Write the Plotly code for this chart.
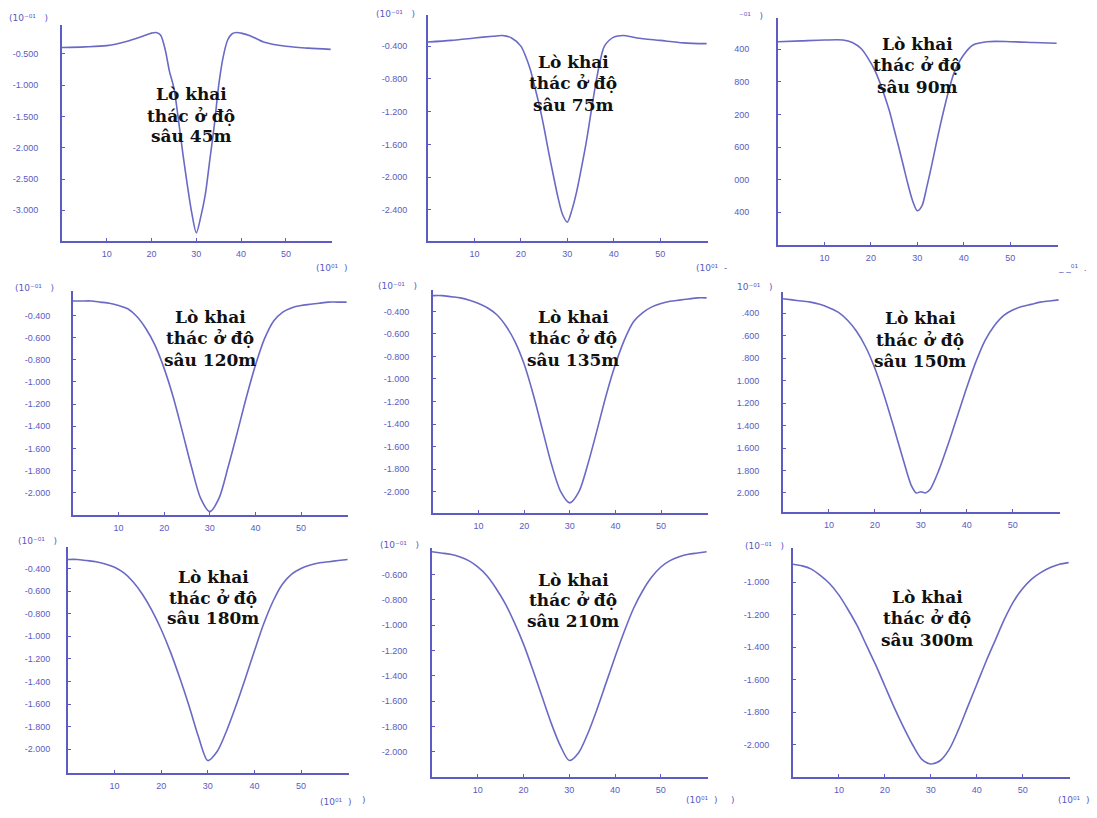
import plotly.graph_objects as go

# ---------------- data (x in 10^01 units, y in 10^-01 units) ----------------
x_45 = [0, 5, 10, 15, 18, 20, 21, 22, 23, 24, 25, 26, 27, 28, 29, 30, 31, 32, 33, 34, 35, 36, 37, 38, 39, 40, 42, 45, 50, 55, 60]
y_45 = [-0.40, -0.39, -0.37, -0.29, -0.22, -0.17, -0.16, -0.20, -0.42, -0.78, -1.05, -1.55, -2.10, -2.60, -3.05, -3.36,
        -3.10, -2.75, -2.20, -1.65, -1.00, -0.55, -0.28, -0.18, -0.16, -0.17, -0.21, -0.31, -0.38, -0.41, -0.43]

x_75 = [0, 5, 10, 14, 16, 18, 20, 21, 22, 23, 24, 25, 26, 27, 28, 29, 30, 31, 32, 33, 34, 35, 36, 37, 38, 40, 42, 45, 50, 55, 60]
y_75 = [-0.35, -0.33, -0.30, -0.28, -0.27, -0.30, -0.40, -0.52, -0.68, -0.90, -1.13, -1.40, -1.70, -1.98, -2.25, -2.46,
        -2.55, -2.40, -2.18, -1.90, -1.60, -1.25, -0.90, -0.60, -0.40, -0.29, -0.27, -0.30, -0.33, -0.36, -0.37]

x_90 = [0, 5, 10, 14, 16, 18, 20, 21, 22, 23, 24, 25, 26, 27, 28, 29, 30, 31, 32, 33, 34, 35, 36, 37, 38, 40, 42, 45, 50, 55, 60]
y_90 = [-0.31, -0.30, -0.29, -0.29, -0.32, -0.40, -0.57, -0.68, -0.82, -0.98, -1.16, -1.38, -1.60, -1.83, -2.06, -2.26,
        -2.38, -2.32, -2.10, -1.85, -1.58, -1.32, -1.08, -0.86, -0.68, -0.47, -0.35, -0.31, -0.31, -0.32, -0.33]

x_wide = [0, 2, 4, 6, 8, 10, 12, 14, 16, 18, 20, 22, 24, 26, 28, 30, 32, 34, 36, 38, 40, 42, 44, 46, 48, 50, 52, 54, 56, 58, 60]

y_120 = [-0.27, -0.27, -0.27, -0.28, -0.29, -0.31, -0.34, -0.41, -0.52, -0.67, -0.88, -1.14, -1.45, -1.77, -2.05, -2.17,
         -2.05, -1.77, -1.46, -1.14, -0.85, -0.61, -0.45, -0.37, -0.33, -0.31, -0.30, -0.29, -0.28, -0.28, -0.28]

y_135 = [-0.26, -0.26, -0.27, -0.28, -0.30, -0.33, -0.37, -0.43, -0.53, -0.67, -0.87, -1.14, -1.45, -1.76, -2.00, -2.10,
         -2.00, -1.75, -1.45, -1.14, -0.87, -0.65, -0.49, -0.41, -0.36, -0.33, -0.31, -0.30, -0.29, -0.28, -0.28]

x_150 = [0, 2, 4, 6, 8, 10, 12, 14, 16, 18, 20, 22, 24, 26, 28, 29, 30, 31, 32, 34, 36, 38, 40, 42, 44, 46, 48, 50, 52, 54, 56, 58, 60]
y_150 = [-0.27, -0.28, -0.29, -0.30, -0.32, -0.35, -0.39, -0.46, -0.56, -0.70, -0.89, -1.13, -1.40, -1.68, -1.94, -2.00,
         -1.99, -2.00, -1.97, -1.79, -1.56, -1.31, -1.06, -0.83, -0.64, -0.51, -0.42, -0.37, -0.34, -0.32, -0.30, -0.29, -0.28]

y_180 = [-0.32, -0.32, -0.33, -0.34, -0.36, -0.39, -0.44, -0.52, -0.63, -0.77, -0.94, -1.14, -1.37, -1.62, -1.89, -2.10,
         -2.02, -1.84, -1.62, -1.38, -1.13, -0.89, -0.69, -0.54, -0.45, -0.40, -0.37, -0.35, -0.34, -0.33, -0.32]

y_210 = [-0.42, -0.43, -0.44, -0.46, -0.49, -0.54, -0.61, -0.71, -0.83, -0.98, -1.15, -1.35, -1.56, -1.77, -1.95, -2.07,
         -2.01, -1.86, -1.67, -1.46, -1.25, -1.05, -0.87, -0.73, -0.62, -0.54, -0.49, -0.46, -0.44, -0.43, -0.42]

y_300 = [-0.89, -0.90, -0.92, -0.96, -1.01, -1.08, -1.17, -1.27, -1.39, -1.51, -1.64, -1.77, -1.89, -2.00, -2.09, -2.12,
         -2.10, -2.03, -1.91, -1.77, -1.63, -1.49, -1.36, -1.23, -1.12, -1.04, -0.98, -0.94, -0.91, -0.89, -0.88]

depths = ["45m", "75m", "90m", "120m", "135m", "150m", "180m", "210m", "300m"]
label_lines = ["Lò khai", "thác ở độ", "sâu "]

x_ticks = [10, 20, 30, 40, 50]
x_ticktext = ["10", "20", "30", "40", "50"]

yt_45 = [-0.5, -1.0, -1.5, -2.0, -2.5, -3.0]
ytt_45 = ["-0.500", "-1.000", "-1.500", "-2.000", "-2.500", "-3.000"]
yt_75 = [-0.4, -0.8, -1.2, -1.6, -2.0, -2.4]
ytt_75 = ["-0.400", "-0.800", "-1.200", "-1.600", "-2.000", "-2.400"]
ytt_90 = ["400", "800", "200", "600", "000", "400"]  # labels cropped in the source image
yt_02 = [-0.4, -0.6, -0.8, -1.0, -1.2, -1.4, -1.6, -1.8, -2.0]
ytt_02 = ["-0.400", "-0.600", "-0.800", "-1.000", "-1.200", "-1.400", "-1.600", "-1.800", "-2.000"]
ytt_150 = [".400", ".600", ".800", "1.000", "1.200", "1.400", "1.600", "1.800", "2.000"]
yt_210 = [-0.6, -0.8, -1.0, -1.2, -1.4, -1.6, -1.8, -2.0]
ytt_210 = ["-0.600", "-0.800", "-1.000", "-1.200", "-1.400", "-1.600", "-1.800", "-2.000"]
yt_300 = [-1.0, -1.2, -1.4, -1.6, -1.8, -2.0]
ytt_300 = ["-1.000", "-1.200", "-1.400", "-1.600", "-1.800", "-2.000"]

# ---------------- layout geometry (pixels) ----------------
W, H = 1097, 818
LINE = "#6a6ac6"
AXIS = "#5c5cc4"
TICKC = "#5a5ac2"
NB = "\u00a0"
YM = "(10\u207b\u2070\u00b9" + NB * 3 + ")"
XM = "(10\u2070\u00b9" + NB * 2 + ")"

panels = [
    dict(x=x_45, y=y_45, yr=[-3.49, -0.04], yt=yt_45, ytt=ytt_45, box=(62, 332, 25, 241),
         lab=(191, [94, 116, 136]), so=20, ym=(28, 18, YM)),
    dict(x=x_75, y=y_75, yr=[-2.78, -0.02], yt=yt_75, ytt=ytt_75, box=(428, 708, 15, 241),
         lab=(573, [62, 83, 105]), so=17, ym=(395, 14, YM)),
    dict(x=x_90, y=y_90, yr=[-2.80, -0.02], yt=yt_75, ytt=ytt_90, box=(778, 1058, 18, 245),
         lab=(917, [44, 65, 87]), so=25, ym=(751, 16, "\u207b\u2070\u00b9" + NB * 3 + ")")),
    dict(x=x_wide, y=y_120, yr=[-2.20, -0.18], yt=yt_02, ytt=ytt_02, box=(73, 348, 291, 515),
         lab=(210, [317, 338, 360]), so=19, ym=(34, 288, YM)),
    dict(x=x_wide, y=y_135, yr=[-2.19, -0.21], yt=yt_02, ytt=ytt_02, box=(433, 708, 290, 513),
         lab=(573, [317, 338, 360]), so=20, ym=(397, 286, YM)),
    dict(x=x_150, y=y_150, yr=[-2.17, -0.21], yt=yt_02, ytt=ytt_150, box=(783, 1060, 292, 512),
         lab=(920, [318, 340, 361]), so=20, ym=(755, 287, "10\u207b\u2070\u00b9" + NB * 3 + ")")),
    dict(x=x_wide, y=y_180, yr=[-2.21, -0.21], yt=yt_02, ytt=ytt_02, box=(68, 349, 547, 773),
         lab=(213, [577, 598, 618]), so=14, ym=(37, 541, YM)),
    dict(x=x_wide, y=y_210, yr=[-2.20, -0.39], yt=yt_210, ytt=ytt_210, box=(432, 708, 548, 777),
         lab=(573, [580, 600, 621]), so=21, ym=(399, 545, YM)),
    dict(x=x_wide, y=y_300, yr=[-2.20, -0.79], yt=yt_300, ytt=ytt_300, box=(793, 1070, 548, 777),
         lab=(927, [597, 618, 640]), so=20, ym=(764, 546, YM)),
]

# x-multiplier labels "(10^01 )" positions (pixels)
xmult = [(331, 268, XM), (711, 268, "(10\u2070\u00b9" + NB * 2 + "-"), (1072, 268, "_ _\u2070\u00b9" + NB * 2 + "."),
         (335, 802, XM), (701, 800, XM), (1073, 800, XM),
         (364, 800, ")"), (733, 800, ")")]

fig = go.Figure()
layout = dict(
    width=W, height=H, margin=dict(l=0, r=0, t=0, b=0),
    paper_bgcolor="white", plot_bgcolor="white", showlegend=False,
    annotations=[],
)


def px(xp):
    return xp / W


def py(yp):
    return 1 - yp / H


tickfont = dict(family="Liberation Sans, Arial, sans-serif", size=9, color=TICKC)
multfont = dict(family="DejaVu Sans, Liberation Sans, sans-serif", size=9, color=TICKC)
labfont = dict(family="DejaVu Serif, Liberation Serif, serif", size=17, color="#111111", weight="bold")

for i, p in enumerate(panels):
    n = "" if i == 0 else str(i + 1)
    fig.add_trace(go.Scatter(x=p["x"], y=p["y"], mode="lines", xaxis="x" + n, yaxis="y" + n,
                             line=dict(color=LINE, width=1.6, shape="spline", smoothing=0.8),
                             hoverinfo="skip"))
    x0, x1, yt, yb = p["box"]
    layout["xaxis" + n] = dict(
        domain=[px(x0), px(x1)], anchor="y" + n, range=[0, 60.3],
        showline=True, linecolor=AXIS, linewidth=2, showgrid=False, zeroline=False,
        ticks="inside", ticklen=3, tickcolor=AXIS, tickvals=x_ticks, ticktext=x_ticktext,
        tickfont=tickfont, ticklabelstandoff=3,
    )
    layout["yaxis" + n] = dict(
        domain=[py(yb), py(yt)], anchor="x" + n, range=p["yr"],
        showline=True, linecolor=AXIS, linewidth=2, showgrid=False, zeroline=False,
        ticks="inside", ticklen=3, tickcolor=AXIS, tickvals=p["yt"], ticktext=p["ytt"],
        tickfont=tickfont, ticklabelstandoff=p["so"],
    )
    lx, lys = p["lab"]
    texts = [label_lines[0], label_lines[1], label_lines[2] + depths[i]]
    for t, ly in zip(texts, lys):
        layout["annotations"].append(dict(
            x=px(lx), y=py(ly), xref="paper", yref="paper", xanchor="center", yanchor="middle",
            text=t, showarrow=False, font=labfont,
        ))
    mx, my, mt = p["ym"]
    layout["annotations"].append(dict(
        x=px(mx), y=py(my), xref="paper", yref="paper", xanchor="center", yanchor="middle",
        text=mt, showarrow=False, font=multfont,
    ))

for mx, my, mt in xmult:
    layout["annotations"].append(dict(
        x=px(mx), y=py(my), xref="paper", yref="paper", xanchor="center", yanchor="middle",
        text=mt, showarrow=False, font=multfont,
    ))

fig.update_layout(**layout)
fig.write_html("out.html", config={"displayModeBar": False},
               post_script="document.body.style.margin='0';document.body.style.overflow='hidden';")
